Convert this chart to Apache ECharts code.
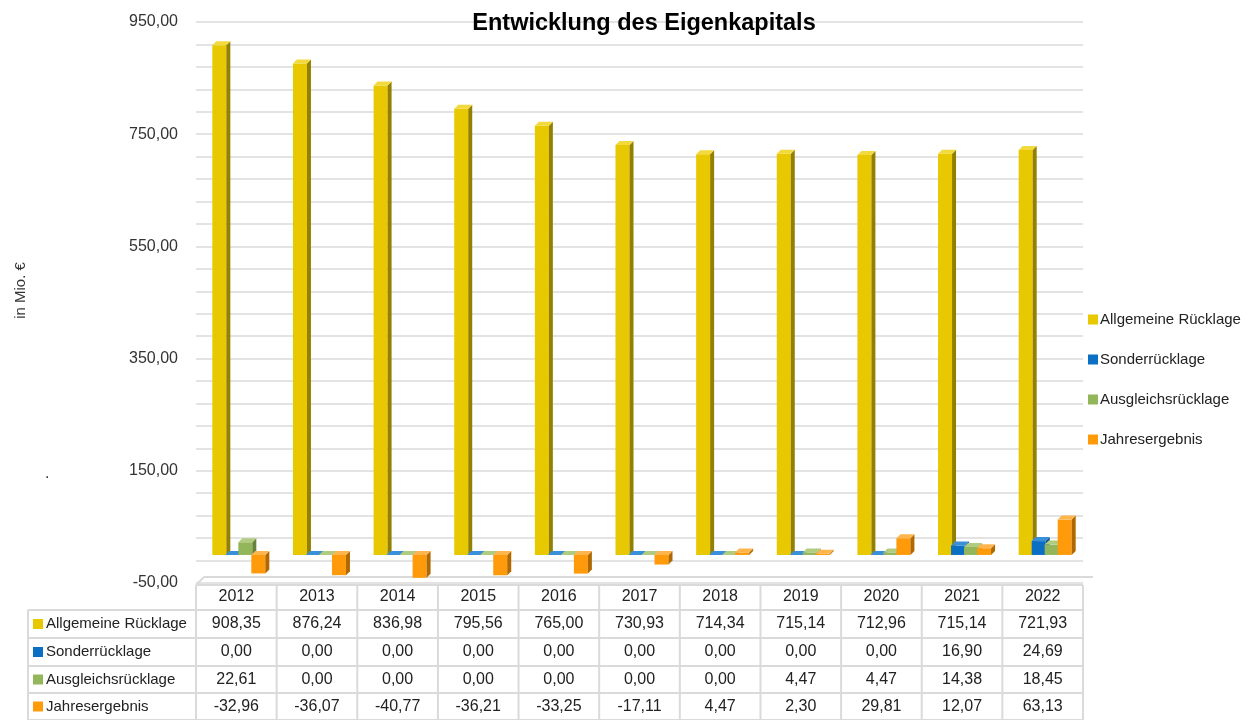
<!DOCTYPE html>
<html>
<head>
<meta charset="utf-8">
<script src="https://cdn.jsdelivr.net/npm/echarts@6/dist/echarts.min.js"></script>
<style>
  html, body { margin: 0; padding: 0; background: #fff; }
  #chart { width: 1248px; height: 720px; }
</style>
</head>
<body>
<div id="chart"></div>
<script>
const years = ["2012", "2013", "2014", "2015", "2016", "2017", "2018", "2019", "2020", "2021", "2022"];
const allgemeineRuecklage = [908.35, 876.24, 836.98, 795.56, 765.0, 730.93, 714.34, 715.14, 712.96, 715.14, 721.93];
const sonderRuecklage = [0, 0, 0, 0, 0, 0, 0, 0, 0, 16.9, 24.69];
const ausgleichsRuecklage = [22.61, 0, 0, 0, 0, 0, 0, 4.47, 4.47, 14.38, 18.45];
const jahresergebnis = [-32.96, -36.07, -40.77, -36.21, -33.25, -17.11, 4.47, 2.3, 29.81, 12.07, 63.13];
const seriesNames = ["Allgemeine Rücklage", "Sonderrücklage", "Ausgleichsrücklage", "Jahresergebnis"];
const seriesValues = [allgemeineRuecklage, sonderRuecklage, ausgleichsRuecklage, jahresergebnis];

const FONT = "'Liberation Sans', Arial, sans-serif";
const GRID_COLOR = "#DADADA";

// front / side / top colours of the pseudo 3d bars
const faces = [
  { front: "#E8C800", side: "#948000", top: "#F3DA3C" },
  { front: "#0B6FC3", side: "#074C88", top: "#3A8FD9" },
  { front: "#93B65A", side: "#67823B", top: "#B0CC80" },
  { front: "#FF9A0B", side: "#B06800", top: "#FFB54D" },
];

const fmt = (v) => v.toFixed(2).replace(".", ",");

function bar3d(k) {
  return function (params, api) {
    const i = api.value(0);
    const base = api.coord([i, 0]);
    const tip = api.coord([i, api.value(1)]);
    const w = 14, d = 4;
    const x0 = base[0] - 17 + k * 13 - w / 2;
    const yTop = Math.min(base[1], tip[1]);
    const yBot = Math.max(base[1], tip[1]);
    const c = faces[k];
    return {
      type: "group",
      children: [
        { type: "rect", shape: { x: x0, y: yTop, width: w, height: yBot - yTop }, style: { fill: c.front } },
        {
          type: "polygon",
          shape: { points: [[x0 + w, yTop], [x0 + w + d, yTop - d], [x0 + w + d, yBot - d], [x0 + w, yBot]] },
          style: { fill: c.side },
        },
        {
          type: "polygon",
          shape: { points: [[x0, yTop], [x0 + d, yTop - d], [x0 + w + d, yTop - d], [x0 + w, yTop]] },
          style: { fill: c.top },
        },
      ],
    };
  };
}

const chart = echarts.init(document.getElementById("chart"));

const option = {
  animation: false,
  title: {
    text: "Entwicklung des Eigenkapitals",
    left: 639,
    textAlign: "center",
    top: 7,
    textStyle: { fontFamily: FONT, fontSize: 23.5, fontWeight: "bold", color: "#000" },
  },
  grid: { left: 196, right: 165, top: 22, bottom: 137 },
  legend: {
    data: seriesNames,
    orient: "vertical",
    left: 1083,
    top: 307,
    icon: "rect",
    itemWidth: 10,
    itemHeight: 10,
    itemGap: 25,
    textStyle: { fontFamily: FONT, fontSize: 15, color: "#222", padding: [0, 0, 0, -3] },
  },
  xAxis: {
    type: "category",
    data: years,
    axisLine: { show: false },
    axisTick: { show: false },
    axisLabel: { margin: 6, fontFamily: FONT, fontSize: 16, color: "#222" },
  },
  yAxis: {
    type: "value",
    min: -50,
    max: 950,
    interval: 200,
    name: "in Mio. €",
    nameLocation: "middle",
    nameGap: 168,
    nameRotate: 90,
    nameTextStyle: { fontFamily: FONT, fontSize: 15, color: "#333", padding: [0, 0, 0, 24] },
    axisLine: { show: false },
    axisTick: { show: false },
    axisLabel: { margin: 18, formatter: fmt, fontFamily: FONT, fontSize: 16, color: "#333" },
    splitLine: { show: true, lineStyle: { color: GRID_COLOR, width: 1.5 } },
    minorTick: { show: false, splitNumber: 5 },
    minorSplitLine: { show: true, lineStyle: { color: GRID_COLOR, width: 1.5 } },
  },
  series: seriesValues.map((vals, k) => ({
    name: seriesNames[k],
    type: "custom",
    renderItem: bar3d(k),
    itemStyle: { color: faces[k].front },
    encode: { x: 0, y: 1 },
    data: vals.map((v, i) => [i, v]),
  })),
};

chart.setOption(option);

// data table under the chart
function drawTable() {
  const g = [];
  const rowY = [585, 610, 638, 666, 693, 720];
  const tableLeft = 28;
  const c0 = chart.convertToPixel({ xAxisIndex: 0 }, 0);
  const c1 = chart.convertToPixel({ xAxisIndex: 0 }, 1);
  const band = c1 - c0;
  const colLeft = c0 - band / 2;
  const colRight = colLeft + band * years.length;
  const line = (x1, y1, x2, y2) => g.push({
    type: "line",
    shape: { x1, y1, x2, y2 },
    style: { stroke: GRID_COLOR, lineWidth: 2 },
    silent: true,
  });

  line(colLeft, rowY[0], colRight, rowY[0]);
  for (let r = 1; r < rowY.length; r++) line(tableLeft, rowY[r], colRight, rowY[r]);
  line(tableLeft, rowY[1], tableLeft, rowY[5]);
  for (let i = 0; i <= years.length; i++) line(colLeft + band * i, rowY[0], colLeft + band * i, rowY[5]);

  // 3d floor edge
  line(colLeft + 8, rowY[0] - 8, colRight + 10, rowY[0] - 8);
  line(colLeft, rowY[0], colLeft + 8, rowY[0] - 8);

  seriesValues.forEach((vals, k) => {
    const yc = (rowY[k + 1] + rowY[k + 2]) / 2;
    g.push({ type: "rect", shape: { x: 33, y: yc - 5, width: 10, height: 10 }, style: { fill: faces[k].front }, silent: true });
    g.push({
      type: "text", x: 46, y: yc,
      style: { text: seriesNames[k], fontFamily: FONT, fontSize: 15, fill: "#222", textVerticalAlign: "middle" },
      silent: true,
    });
    vals.forEach((v, i) => {
      g.push({
        type: "text", x: colLeft + band * (i + 0.5), y: yc,
        style: { text: fmt(v), fontFamily: FONT, fontSize: 16, fill: "#222", textAlign: "center", textVerticalAlign: "middle" },
        silent: true,
      });
    });
  });

  g.push({ type: "text", x: 45, y: 466, style: { text: ".", fontSize: 16, fill: "#333" }, silent: true });

  chart.setOption({ graphic: g });
}

drawTable();
</script>
</body>
</html>
